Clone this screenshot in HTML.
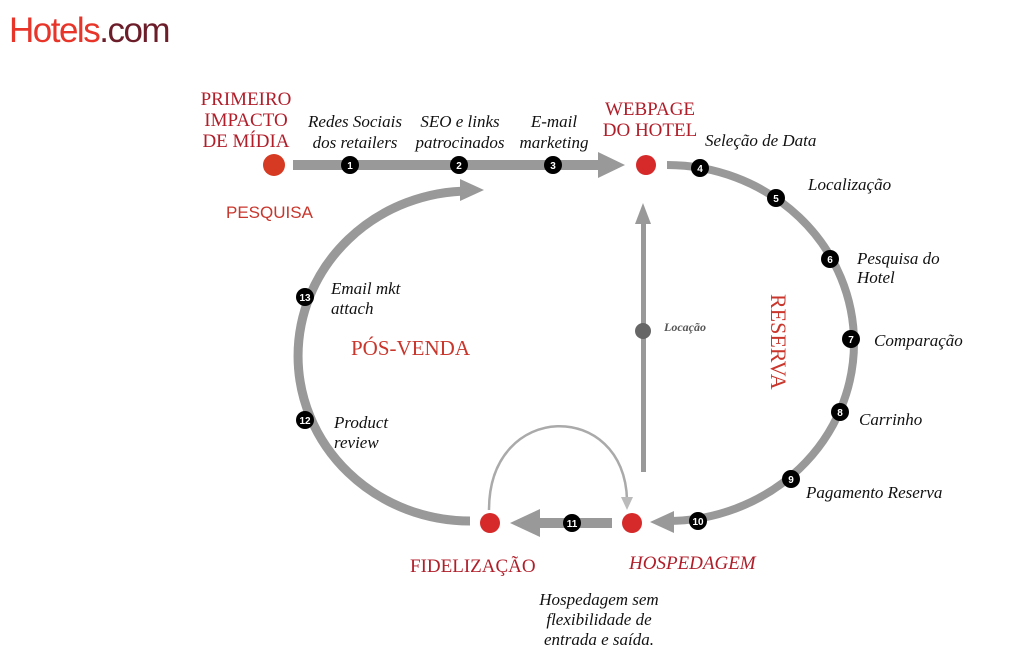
<!DOCTYPE html>
<html><head><meta charset="utf-8"><style>
html,body{margin:0;padding:0;background:#fff;}
svg{display:block;}
.i{font-family:"Liberation Serif",serif;font-style:italic;font-size:17px;fill:#111;}
.r{font-family:"Liberation Serif",serif;font-size:19px;fill:#b01e2a;}
.n{font-family:"Liberation Sans",sans-serif;font-size:10px;font-weight:bold;fill:#fff;text-anchor:middle;}
</style></head><body>
<svg width="1024" height="661" viewBox="0 0 1024 661" xmlns="http://www.w3.org/2000/svg">
<text x="9" y="42" font-family="Liberation Sans,sans-serif" font-size="35" fill="#e8352a" letter-spacing="-1.5">Hotels<tspan fill="#6b1d2a">.com</tspan></text>

<rect x="293" y="160" width="308" height="10" fill="#999"/>
<polygon points="598,152 625,165 598,178" fill="#999"/>
<path d="M667,165 A187,178 0 0 1 667,521 L672,521" fill="none" stroke="#999" stroke-width="8"/>
<polygon points="650,522 674,511 674,533" fill="#999"/>
<rect x="535" y="518" width="77" height="10" fill="#999"/>
<polygon points="510,523 540,509 540,537" fill="#999"/>
<path d="M470,521 A172,165 0 0 1 470,191" fill="none" stroke="#999" stroke-width="9"/>
<polygon points="484,190 460,179 460,201" fill="#999"/>
<rect x="641" y="222" width="5" height="250" fill="#999"/>
<polygon points="643,203 635,224 651,224" fill="#999"/>
<circle cx="643" cy="331" r="8" fill="#666"/>
<path d="M489,510 C489,400 625,400 627,500" fill="none" stroke="#aaa" stroke-width="2.5"/>
<polygon points="627,510 621,497 633,497" fill="#bbb"/>

<circle cx="274" cy="165" r="11" fill="#d63a22"/>
<circle cx="646" cy="165" r="10" fill="#d62a2a"/>
<circle cx="632" cy="523" r="10" fill="#d62a2a"/>
<circle cx="490" cy="523" r="10" fill="#d62a2a"/>

<g>
<circle cx="350" cy="165" r="9"/><text class="n" x="350" y="169">1</text>
<circle cx="459" cy="165" r="9"/><text class="n" x="459" y="169">2</text>
<circle cx="553" cy="165" r="9"/><text class="n" x="553" y="169">3</text>
<circle cx="700" cy="168" r="9"/><text class="n" x="700" y="172">4</text>
<circle cx="776" cy="198" r="9"/><text class="n" x="776" y="202">5</text>
<circle cx="830" cy="259" r="9"/><text class="n" x="830" y="263">6</text>
<circle cx="851" cy="339" r="9"/><text class="n" x="851" y="343">7</text>
<circle cx="840" cy="412" r="9"/><text class="n" x="840" y="416">8</text>
<circle cx="791" cy="479" r="9"/><text class="n" x="791" y="483">9</text>
<circle cx="698" cy="521" r="9"/><text class="n" x="698" y="525">10</text>
<circle cx="572" cy="523" r="9"/><text class="n" x="572" y="527">11</text>
<circle cx="305" cy="420" r="9"/><text class="n" x="305" y="424">12</text>
<circle cx="305" cy="297" r="9"/><text class="n" x="305" y="301">13</text>
</g>

<text class="r" text-anchor="middle" x="246" y="105">PRIMEIRO</text>
<text class="r" text-anchor="middle" x="246" y="126">IMPACTO</text>
<text class="r" text-anchor="middle" x="246" y="147">DE MÍDIA</text>
<text class="r" text-anchor="middle" x="650" y="115">WEBPAGE</text>
<text class="r" text-anchor="middle" x="650" y="136">DO HOTEL</text>
<text x="226" y="218" font-family="Liberation Sans,sans-serif" font-size="17" fill="#c8362c">PESQUISA</text>
<text class="r" x="351" y="355" style="font-size:21px;fill:#c8362c">PÓS-VENDA</text>
<text class="r" x="410" y="572">FIDELIZAÇÃO</text>
<text class="r" x="629" y="569" style="font-style:italic">HOSPEDAGEM</text>
<text class="r" style="font-size:22px;fill:#c8362c" transform="translate(771,294) rotate(90)">RESERVA</text>

<text class="i" text-anchor="middle" x="355" y="127">Redes Sociais</text>
<text class="i" text-anchor="middle" x="355" y="148">dos retailers</text>
<text class="i" text-anchor="middle" x="460" y="127">SEO e links</text>
<text class="i" text-anchor="middle" x="460" y="148">patrocinados</text>
<text class="i" text-anchor="middle" x="554" y="127">E-mail</text>
<text class="i" text-anchor="middle" x="554" y="148">marketing</text>
<text class="i" x="705" y="146">Seleção de Data</text>
<text class="i" x="808" y="190">Localização</text>
<text class="i" x="857" y="264">Pesquisa do</text>
<text class="i" x="857" y="283">Hotel</text>
<text class="i" x="874" y="346">Comparação</text>
<text class="i" x="859" y="425">Carrinho</text>
<text class="i" x="806" y="498">Pagamento Reserva</text>
<text class="i" x="331" y="294">Email mkt</text>
<text class="i" x="331" y="314">attach</text>
<text class="i" x="334" y="428">Product</text>
<text class="i" x="334" y="448">review</text>
<text class="i" x="664" y="331" style="font-size:12px;font-weight:bold;fill:#555">Locação</text>
<text class="i" text-anchor="middle" x="599" y="605">Hospedagem sem</text>
<text class="i" text-anchor="middle" x="599" y="625">flexibilidade de</text>
<text class="i" text-anchor="middle" x="599" y="645">entrada e saída.</text>
</svg>
</body></html>
